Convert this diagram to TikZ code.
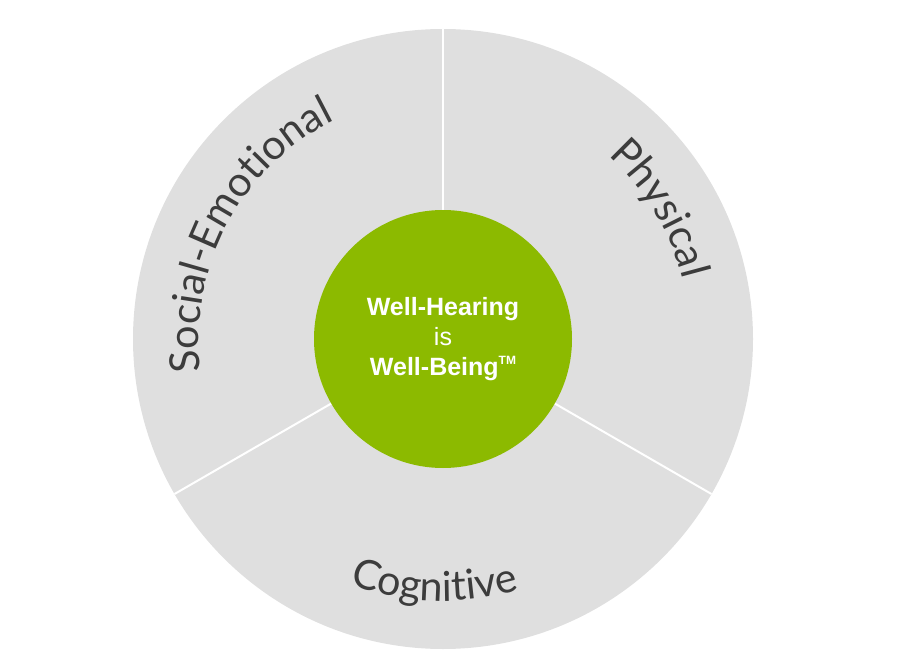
\documentclass[tikz,border=0pt]{standalone}
\usepackage{fontspec}
\setmainfont{Liberation Sans}
\newfontfamily\arcfont{Lato}
\usetikzlibrary{decorations.text}
\definecolor{ring}{HTML}{DFDFDF}
\definecolor{leaf}{HTML}{8CBA00}
\definecolor{ink}{HTML}{3C3C3C}
\tikzset{arclabel/.style={decorate,decoration={text along path,text align=center,
  text={|\arcfont\fontsize{31}{36}\selectfont\color{ink}|#1}}}}

\begin{document}
\begin{tikzpicture}[x=0.75pt,y=0.75pt]
        \useasboundingbox (0,0) rectangle (900,669);
        \coordinate (c) at (443,330);
        \fill[ring] (c) circle[radius=310];
        \foreach \a in {90,210,330} {\draw[white,line width=1.5pt] (c) -- ++(\a:310);}
        \fill[leaf] (c) circle[radius=129];
        \node[white,align=center,inner sep=0pt,font=\fontsize{18.75}{22.5}\selectfont] (core) at (c) {\textbf{Well-Hearing}\\is\\\textbf{Well-Being}\raisebox{0.45em}{\fontsize{9}{9}\selectfont\bfseries TM}};
        \path[arclabel=Social-Emotional] ([shift={(203:244)}]c) arc[start angle=203,end angle=101,radius=244];
        \path[arclabel=Physical] ([shift={(71:247)}]c) arc[start angle=71,end angle=-9,radius=247];
        \path[arclabel=Cognitive] ([shift={(237:262)}]c) arc[start angle=237,end angle=299,radius=262];
      \end{tikzpicture}
\end{document}
